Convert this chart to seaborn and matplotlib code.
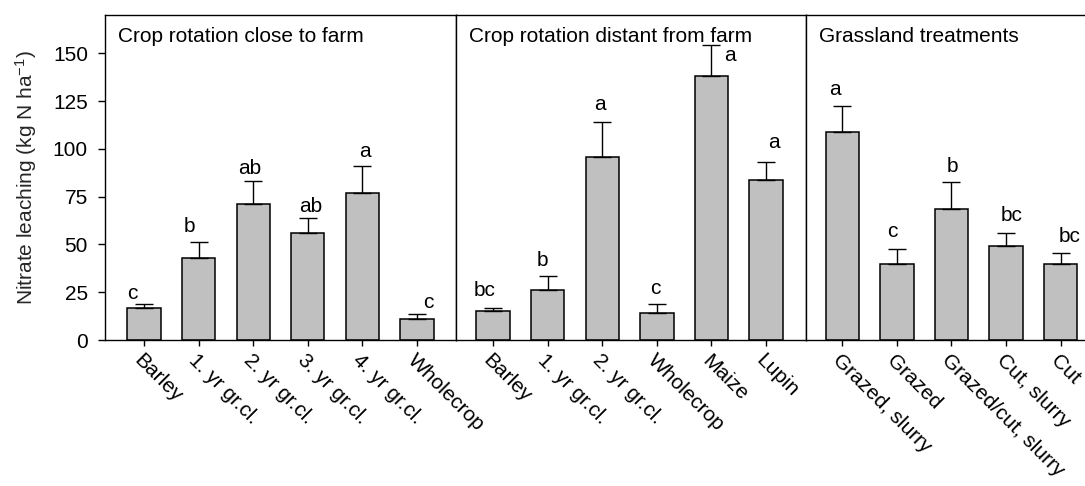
import numpy as np
import pandas as pd
import matplotlib
matplotlib.use("Agg")
import matplotlib.pyplot as plt
import seaborn as sns

# ---------------- data ----------------
panel_titles = ["Crop rotation close to farm",
                "Crop rotation distant from farm",
                "Grassland treatments"]

close_labels = ["Barley", "1. yr gr.cl.", "2. yr gr.cl.", "3. yr gr.cl.", "4. yr gr.cl.", "Wholecrop"]
close_values = [17, 43, 71, 56, 77, 11]
close_err = [2, 8, 12, 8, 14, 2.5]
close_letters = ["c", "b", "ab", "ab", "a", "c"]

distant_labels = ["Barley", "1. yr gr.cl.", "2. yr gr.cl.", "Wholecrop", "Maize", "Lupin"]
distant_values = [15, 26, 95.5, 14, 138, 83.5]
distant_err = [1.5, 7.5, 18.5, 5, 16.5, 9.5]
distant_letters = ["bc", "b", "a", "c", "a", "a"]

grass_labels = ["Grazed, slurry", "Grazed", "Grazed/cut, slurry", "Cut, slurry", "Cut"]
grass_values = [109, 40, 68.5, 49, 40]
grass_err = [13.5, 7.5, 14, 7, 5.5]
grass_letters = ["a", "c", "b", "bc", "bc"]

y_ticks = [0, 25, 50, 75, 100, 125, 150]
y_label = "Nitrate leaching (kg N ha$^{-1}$)"

# ---------------- layout / style ----------------
# letter offsets in pixels (dx from bar centre, dy baseline above error cap)
close_ldx = [-12, -9, -3, 3, 3, 11.5]
close_ldy = [5, 10, 7, 6, 9, 6]
distant_ldx = [-8, -5, -2.5, -1.3, 18, 8]
distant_ldy = [12, 10, 12, 10, -16, 14]
grass_ldx = [-7, -5, 1.3, 5.5, 9]
grass_ldy = [11, 12, 10, 12, 11]

sns.set_style("ticks")
plt.rcParams["font.family"] = ["Liberation Sans", "DejaVu Sans"]
plt.rcParams["mathtext.default"] = "regular"
plt.rcParams["mathtext.fontset"] = "custom"
plt.rcParams["mathtext.rm"] = "Liberation Sans"

DPI = 100
W, H = 1085, 486
fig = plt.figure(figsize=(W / DPI, H / DPI), dpi=DPI)
FS = 15
PX = 72.0 / DPI  # points per pixel

cat_px = 54.6
left_px, top_px, bottom_px = 105, 15, 340
fy0 = (H - bottom_px) / H
fh = (bottom_px - top_px) / H

panels = [
    (close_labels, close_values, close_err, close_letters, close_ldx, close_ldy, (-0.714, 5.714)),
    (distant_labels, distant_values, distant_err, distant_letters, distant_ldx, distant_ldy, (-0.68, 5.725)),
    (grass_labels, grass_values, grass_err, grass_letters, grass_ldx, grass_ldy, (-0.67, 4.70)),
]

x_px = left_px
axes = []
for i, (labels, vals, errs, letters, ldx, ldy, xl) in enumerate(panels):
    wpx = (xl[1] - xl[0]) * cat_px
    ax = fig.add_axes([x_px / W, fy0, wpx / W, fh])
    x_px += wpx
    axes.append(ax)
    df = pd.DataFrame({"treatment": labels, "value": vals})
    sns.barplot(data=df, x="treatment", y="value", order=labels, ax=ax,
                color="#c0c0c0", edgecolor="black", linewidth=1.1,
                width=0.61, errorbar=None, saturation=1)
    pos = np.arange(len(labels))
    ax.errorbar(pos, vals, yerr=[np.zeros(len(vals)), errs], fmt="none",
                ecolor="black", elinewidth=1.0, capsize=6.5,
                capthick=1.0, zorder=3)
    for p, v, e, t, dx, dy in zip(pos, vals, errs, letters, ldx, ldy):
        ax.annotate(t, xy=(p, v + e), xytext=(dx * PX, dy * PX),
                    textcoords="offset points", ha="center", va="baseline",
                    fontsize=FS, color="black")
    ax.set_xlim(*xl)
    ax.set_ylim(0, 170)
    ax.set_xlabel("")
    ax.set_ylabel("")
    ax.set_xticks(pos)
    ax.set_xticklabels(labels, rotation=-45, ha="left", va="top",
                       rotation_mode="anchor", fontsize=FS)
    ax.tick_params(axis="x", length=6 * PX, width=1, pad=5 * PX, colors="black")
    for s in ax.spines.values():
        s.set_visible(True)
        s.set_color("black")
        s.set_linewidth(1.0)
    ax.annotate(panel_titles[i], xy=(0, 1), xycoords="axes fraction",
                xytext=(13 * PX, -12 * PX), textcoords="offset points",
                ha="left", va="top", fontsize=FS, color="black")
    if i == 0:
        ax.set_yticks(y_ticks)
        ax.tick_params(axis="y", length=7 * PX, width=1, pad=10 * PX,
                       labelsize=FS, colors="black")
        ax.set_ylabel(y_label, fontsize=FS, labelpad=14 * PX)
    else:
        ax.set_yticks(y_ticks)
        ax.tick_params(axis="y", length=0, labelleft=False)

fig.savefig("out.png", dpi=DPI)
